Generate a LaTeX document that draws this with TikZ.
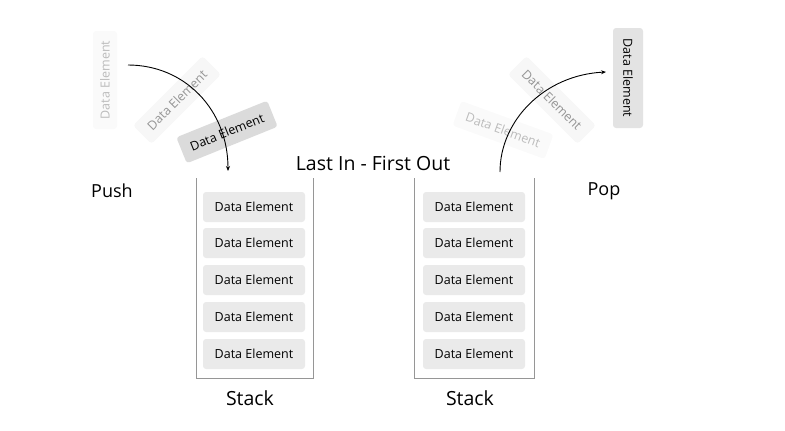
\documentclass[tikz,border=0pt]{standalone}
\usepackage{fontspec}
\setmainfont{Open Sans}
\usetikzlibrary{arrows.meta}
\definecolor{boxfill}{RGB}{234,234,234}
\definecolor{linegray}{RGB}{150,150,150}
\tikzset{
  elem/.style={fill=boxfill, rounded corners=3pt, minimum width=102pt, minimum height=30pt, inner sep=0pt, font=\fontsize{12.5}{14}\selectfont, text=black},
  ghost/.style={elem, opacity=#1, text opacity=#1},
  lbl/.style={font=\fontsize{18}{21}\selectfont, text=black},
  wall/.style={draw=linegray, line width=0.8pt},
  mover/.style={draw=black, line width=0.9pt, -{Stealth[length=5pt,width=4pt]}}
}
\begin{document}
\begin{tikzpicture}[x=1pt,y=-1pt]
\useasboundingbox (0,0) rectangle (785,431);
% containers
\coordinate (l1) at (196,178); \coordinate (l2) at (196,378);
\coordinate (l3) at (313,378); \coordinate (l4) at (313,178);
\draw[wall] (l1) -- (l2) -- (l3) -- (l4);
\coordinate (r1) at (414,178); \coordinate (r2) at (414,378);
\coordinate (r3) at (534,378); \coordinate (r4) at (534,178);
\draw[wall] (r1) -- (r2) -- (r3) -- (r4);
% stacked elements
\foreach \i/\y in {1/207,2/243,3/280,4/317,5/354}{
  \node[elem] (a\i) at (254,\y) {Data Element};
  \node[elem] (b\i) at (474,\y) {Data Element};
}
% labels
\node[lbl, font=\fontsize{19.5}{22}\selectfont] (title) at (373,163) {Last In - First Out};
\node[lbl] (push) at (112,191) {Push};
\node[lbl] (pop) at (604,191) {Pop};
\node[lbl, font=\fontsize{19.5}{22}\selectfont] (s1) at (250,398) {Stack};
\node[lbl, font=\fontsize{19.5}{22}\selectfont] (s2) at (470,398) {Stack};
% push side
\node[ghost=0.25, rotate=90, minimum width=98pt, minimum height=24pt] (p1) at (105,80) {Data Element};
\node[ghost=0.4, rotate=45, minimum width=98pt, minimum height=26pt] (p2) at (177,100) {Data Element};
\node[elem, fill=black!14, rotate=22, minimum width=98pt, minimum height=28pt] (p3) at (227,132) {Data Element};
\coordinate (ps) at (128,65);
\coordinate (pe) at (228,171);
\draw[mover] (ps) .. controls (185,65) and (228,110) .. (pe);
% pop side
\node[ghost=0.25, rotate=-20, minimum width=98pt, minimum height=26pt] (q1) at (503,130) {Data Element};
\node[ghost=0.4, rotate=-45, minimum width=98pt, minimum height=26pt] (q2) at (552,100) {Data Element};
\node[elem, fill=black!11, rotate=-90, minimum width=100pt, minimum height=30pt] (q3) at (628,78) {Data Element};
\coordinate (qs) at (500,172);
\coordinate (qe) at (606,72);
\draw[mover] (qs) .. controls (500,120) and (545,75) .. (qe);
\end{tikzpicture}
\end{document}
